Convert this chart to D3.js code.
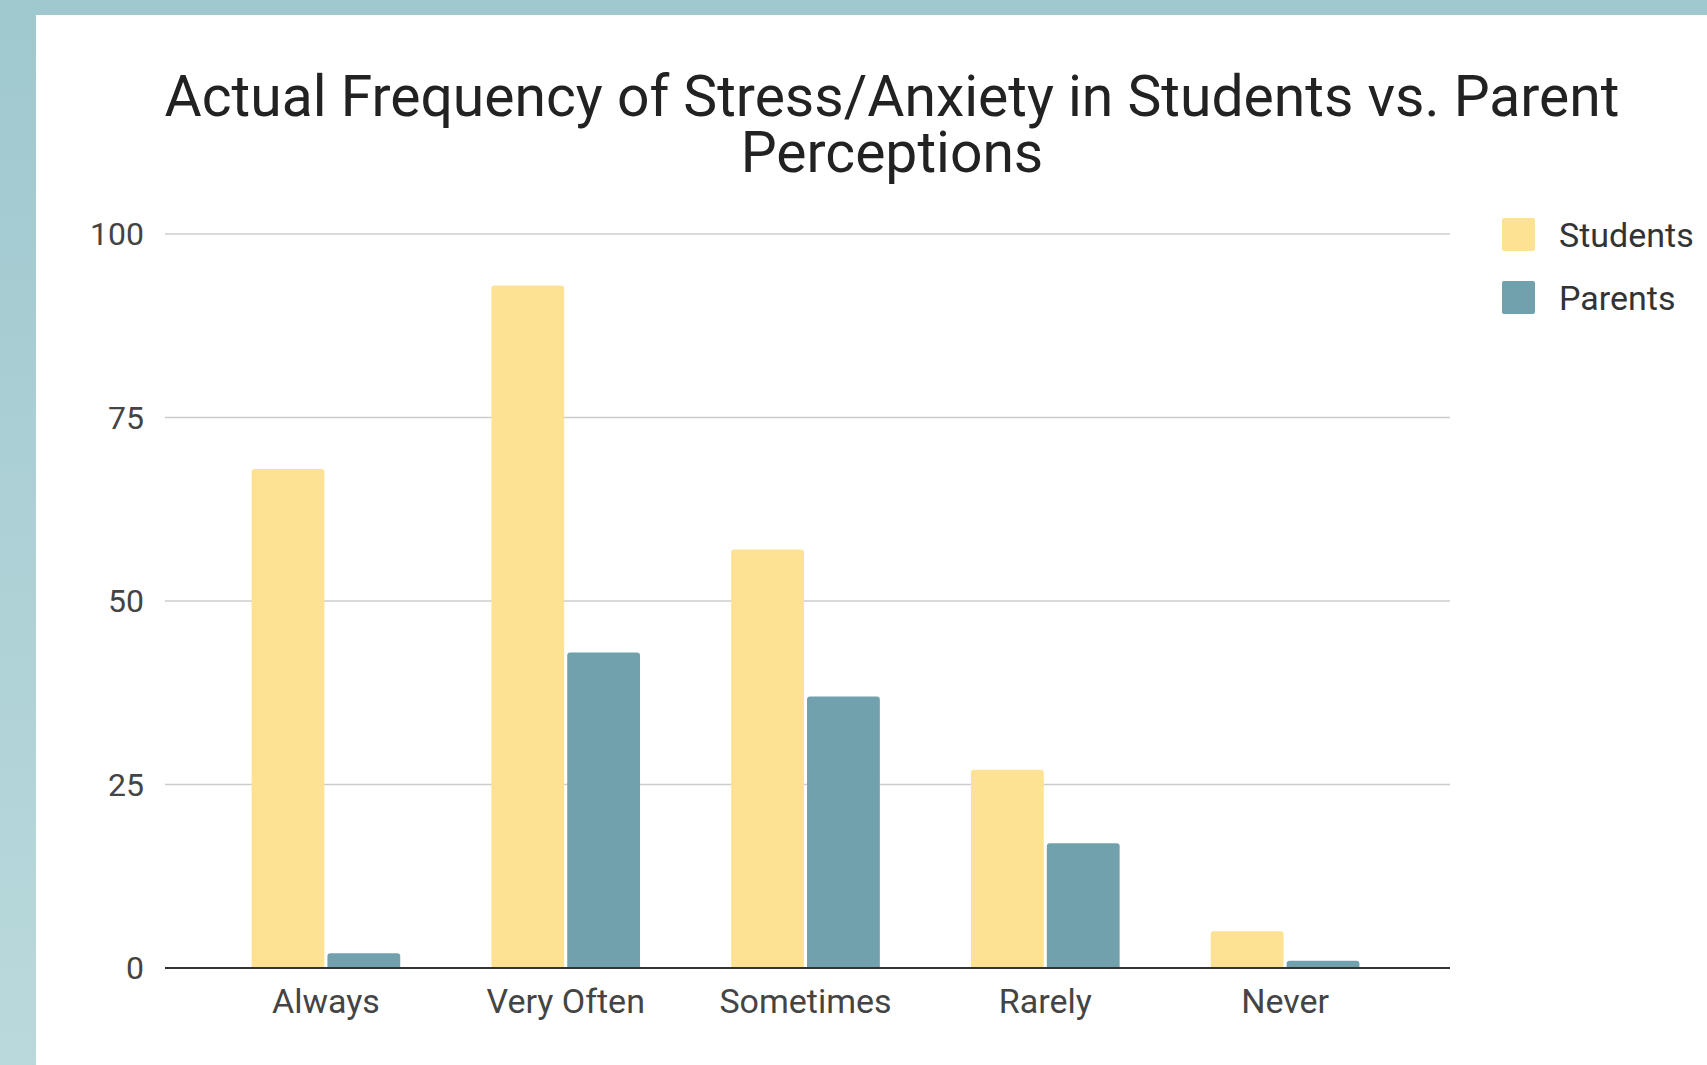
<!DOCTYPE html>
<html>
<head>
<meta charset="utf-8">
<script src="https://cdn.jsdelivr.net/npm/d3@7"></script>
<style>
  html, body { margin: 0; padding: 0; background: #fff; }
  svg { display: block; }
</style>
</head>
<body>
<svg id="chart" width="1707" height="1065"></svg>
<script>
const categories = ["Always", "Very Often", "Sometimes", "Rarely", "Never"];
const seriesNames = ["Students", "Parents"];
const studentsValues = [68, 93, 57, 27, 5];
const parentsValues = [2, 43, 37, 17, 1];
const yTicks = [0, 25, 50, 75, 100];
const titleLines = ["Actual Frequency of Stress/Anxiety in Students vs. Parent", "Perceptions"];

const W = 1707, H = 1065;
const svg = d3.select("#chart");
const colors = { Students: "#fde293", Parents: "#71a1ad" };

// background frame
const defs = svg.append("defs");
const grad = defs.append("linearGradient").attr("id", "sideGrad")
  .attr("x1", 0).attr("y1", 0).attr("x2", 0).attr("y2", 1);
grad.append("stop").attr("offset", "0%").attr("stop-color", "#9fc8cf");
grad.append("stop").attr("offset", "100%").attr("stop-color", "#bad9dc");
svg.append("rect").attr("x", 0).attr("y", 0).attr("width", W).attr("height", H).attr("fill", "url(#sideGrad)");
svg.append("rect").attr("x", 0).attr("y", 0).attr("width", W).attr("height", 15).attr("fill", "#a0c8cf");
svg.append("rect").attr("x", 36).attr("y", 15).attr("width", W - 36).attr("height", H - 15).attr("fill", "#ffffff");

const font = "Roboto, 'Noto Sans', sans-serif";

// title
const title = svg.append("text").attr("font-family", font).attr("font-size", 57)
  .attr("fill", "#222").attr("text-anchor", "middle");
titleLines.forEach((t, i) => {
  title.append("tspan").attr("x", 892).attr("y", 116 + i * 56).text(t);
});

const plotLeft = 165, plotRight = 1450;
const y = d3.scaleLinear().domain([0, 100]).range([968, 234]);
const x0 = d3.scaleBand().domain(categories).range([206, 1405]).paddingInner(0.38).paddingOuter(0.19);
const x1 = d3.scaleBand().domain(seriesNames).range([0, x0.bandwidth()]).paddingInner(0.04);

// gridlines
svg.append("g").selectAll("line").data(yTicks.filter(d => d !== 0)).join("line")
  .attr("x1", plotLeft).attr("x2", plotRight)
  .attr("y1", d => y(d)).attr("y2", d => y(d))
  .attr("stroke", "#cccccc").attr("stroke-width", 1.5);

// y axis labels
const yAxis = d3.axisLeft(y).tickValues(yTicks).tickSize(0).tickPadding(0);
const yG = svg.append("g").attr("transform", `translate(${plotLeft - 21},0)`).call(yAxis);
yG.select(".domain").remove();
yG.selectAll("text").attr("font-family", font).attr("font-size", 32).attr("fill", "#444").attr("dy", "0.34em");

// bars
const data = categories.map((c, i) => ({ cat: c, vals: [
  { key: "Students", value: studentsValues[i] },
  { key: "Parents", value: parentsValues[i] }
]}));
const groups = svg.append("g").selectAll("g").data(data).join("g")
  .attr("transform", d => `translate(${x0(d.cat)},0)`);
groups.selectAll("path").data(d => d.vals).join("path")
  .attr("fill", d => colors[d.key])
  .attr("d", d => {
    const bx = x1(d.key), bw = x1.bandwidth();
    const top = y(d.value), bot = y(0);
    const r = Math.min(3, (bot - top));
    return `M${bx},${bot} L${bx},${top + r} Q${bx},${top} ${bx + r},${top} L${bx + bw - r},${top} Q${bx + bw},${top} ${bx + bw},${top + r} L${bx + bw},${bot} Z`;
  });

// baseline
svg.append("line").attr("x1", plotLeft).attr("x2", plotRight)
  .attr("y1", y(0)).attr("y2", y(0)).attr("stroke", "#333").attr("stroke-width", 2);

// x axis labels
const xAxis = d3.axisBottom(x0).tickSize(0).tickPadding(0);
const xG = svg.append("g").attr("transform", `translate(0,${y(0)})`).call(xAxis);
xG.select(".domain").remove();
xG.selectAll("text").attr("font-family", font).attr("font-size", 34).attr("fill", "#444")
  .attr("dy", null).attr("y", 45);

// legend
const legend = svg.append("g").selectAll("g").data(seriesNames).join("g")
  .attr("transform", (d, i) => `translate(1502,${218 + i * 63})`);
legend.append("rect").attr("width", 33).attr("height", 33).attr("rx", 2).attr("fill", d => colors[d]);
legend.append("text").attr("x", 57).attr("y", 17).attr("dy", "0.36em")
  .attr("font-family", font).attr("font-size", 34).attr("fill", "#333").text(d => d);
</script>
</body>
</html>
